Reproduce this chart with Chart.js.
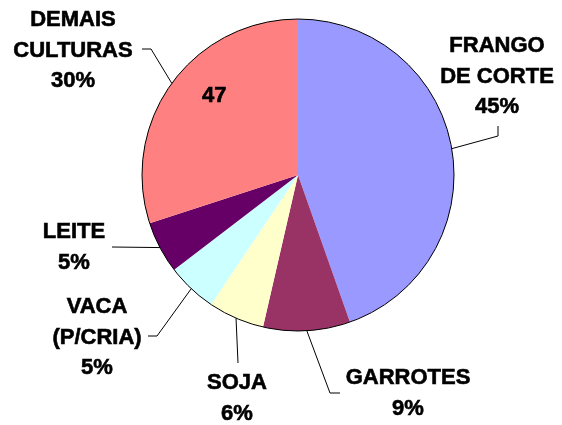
<!DOCTYPE html>
<html>
<head>
<meta charset="utf-8">
<script src="https://cdn.jsdelivr.net/npm/chart.js@4"></script>
<style>
  html, body { margin: 0; padding: 0; background: #fff; }
  #wrap { width: 562px; height: 425px; }
</style>
</head>
<body>
<div id="wrap"><canvas id="pizza" width="562" height="425"></canvas></div>
<script>
// dados do grafico
const categorias = ["FRANGO\nDE CORTE", "GARROTES", "SOJA", "VACA\n(P/CRIA)", "LEITE", "DEMAIS\nCULTURAS"];
const valores = [44.6, 9.0, 5.8, 5.2, 5.4, 30.0];
const cores = ["#9999FF", "#993366", "#FFFFCC", "#CCFFFF", "#660066", "#FF8080"];
const rotuloExtra = "47";

// posicao dos rotulos e cotovelos das linhas (layout, nao dados)
const rotulos = [
  { x: 497, y: 46, cotovelo: [[498, 136], [498, 126]] },
  { x: 408, y: 378, cotovelo: [[330, 393], [340, 393]] },
  { x: 237, y: 383, cotovelo: [[238, 363]] },
  { x: 97, y: 307, cotovelo: [[157, 336], [148, 336]] },
  { x: 74, y: 232, cotovelo: [[112, 247]] },
  { x: 73, y: 20, cotovelo: [[151, 49], [142, 49]] }
];

const fonte = "bold 22px 'Liberation Sans', Arial, sans-serif";

const rotulosPlugin = {
  id: "rotulos",
  afterDatasetsDraw(chart) {
    const ctx = chart.ctx;
    const arcos = chart.getDatasetMeta(0).data;
    const total = valores.reduce((a, b) => a + b, 0);
    ctx.save();

    // contorno externo
    const a0 = arcos[0];
    ctx.beginPath();
    ctx.arc(a0.x, a0.y, a0.outerRadius, 0, Math.PI * 2);
    ctx.strokeStyle = "#000";
    ctx.lineWidth = 1;
    ctx.stroke();

    ctx.font = fonte;
    ctx.fillStyle = "#000";
    ctx.textAlign = "center";
    ctx.textBaseline = "middle";

    const escrever = (t, x, y) => {
      ctx.lineWidth = 0.6;
      ctx.fillText(t, x, y);
      ctx.strokeText(t, x, y);
    };

    arcos.forEach((arco, i) => {
      const meio = (arco.startAngle + arco.endAngle) / 2;
      const px = arco.x + Math.cos(meio) * arco.outerRadius;
      const py = arco.y + Math.sin(meio) * arco.outerRadius;
      const r = rotulos[i];

      ctx.lineWidth = 1;
      ctx.beginPath();
      ctx.moveTo(px, py);
      r.cotovelo.forEach(p => ctx.lineTo(p[0], p[1]));
      ctx.stroke();

      const linhas = categorias[i].split("\n");
      linhas.push(Math.round(valores[i] / total * 100) + "%");
      linhas.forEach((t, k) => escrever(t, r.x, r.y + k * 30.5));
    });

    // numero solto dentro da fatia "demais culturas"
    const d = arcos[5];
    const ang = d.startAngle + (d.endAngle - d.startAngle) * 0.57;
    escrever(rotuloExtra, d.x + Math.cos(ang) * d.outerRadius * 0.74,
             d.y + Math.sin(ang) * d.outerRadius * 0.74);
    ctx.restore();
  }
};

new Chart(document.getElementById("pizza").getContext("2d"), {
  type: "pie",
  data: {
    labels: categorias,
    datasets: [{
      data: valores,
      backgroundColor: cores,
      borderWidth: 0
    }]
  },
  options: {
    responsive: false,
    animation: false,
    layout: { padding: { top: 19, bottom: 94, left: 142, right: 108 } },
    plugins: {
      legend: { display: false },
      tooltip: { enabled: false }
    }
  },
  plugins: [rotulosPlugin]
});
</script>
</body>
</html>
